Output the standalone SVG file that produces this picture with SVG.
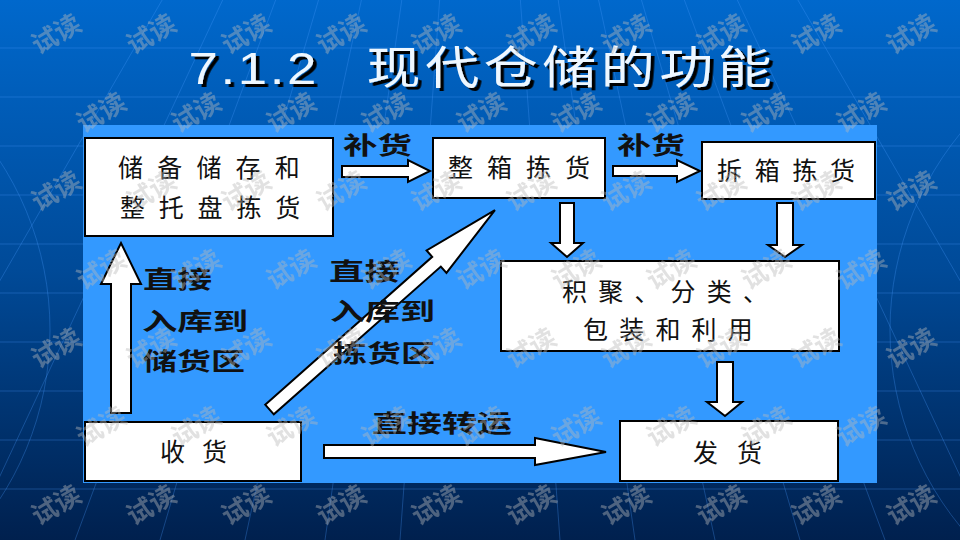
<svg xmlns="http://www.w3.org/2000/svg" width="960" height="540" viewBox="0 0 960 540">
<defs>
<linearGradient id="bg" x1="0" y1="0" x2="0" y2="1">
<stop offset="0" stop-color="#0068cc"/>
<stop offset="0.5" stop-color="#004a98"/>
<stop offset="1" stop-color="#00204e"/>
</linearGradient>
<filter id="shadow" x="-5%" y="-20%" width="115%" height="150%">
<feDropShadow dx="3" dy="3" stdDeviation="0.6" flood-color="#000" flood-opacity="1"/>
</filter>
<style>
.bgl{stroke:#4a9cff;stroke-width:1;opacity:0.3;fill:none}
.box{fill:#fff;stroke:#000;stroke-width:2}
.arr{fill:#fff;stroke:#000;stroke-width:2;stroke-linejoin:miter}
.bt{font-family:"Liberation Serif","Noto Sans CJK SC",serif;font-size:25px;fill:#111;dominant-baseline:central}
.lb{font-family:"Liberation Serif","Noto Sans CJK SC",serif;font-size:24px;font-weight:700;fill:#111;dominant-baseline:central}
.wm{font-family:"Noto Sans CJK SC",sans-serif;font-size:26px;font-weight:700;fill:#bababa;opacity:0.42;text-anchor:middle;dominant-baseline:central}
</style>
</defs>
<rect x="0" y="0" width="960" height="540" fill="url(#bg)"/>
<g id="bglines">
<path class="bgl" d="M0 48H960M0 97H960M0 146H960M0 195H960M0 244H960M0 293H960M0 342H960M0 391H960M0 440H960M0 489H960"/>
<path class="bgl" d="M480 -550L-150 540M480 -550L-30 540M480 -550L75 540M480 -550L160 540M480 -550L245 540M480 -550L325 540M480 -550L400 540M480 -550L560 540M480 -550L635 540M480 -550L715 540M480 -550L800 540M480 -550L885 540M480 -550L990 540M480 -550L1110 540"/>
<circle class="bgl" cx="1200" cy="330" r="310"/>
<circle class="bgl" cx="-260" cy="330" r="310"/>
</g>
<text id="title" transform="translate(0,84) scale(1.2,1)" filter="url(#shadow)" fill="#eef7ff"><tspan x="157" font-family="Liberation Sans, Arial, sans-serif" font-size="44" letter-spacing="2.2">7.1.2</tspan><tspan x="305.5" font-family="Noto Sans CJK SC, sans-serif" font-size="45" letter-spacing="3.8">现代仓储的功能</tspan></text>
<rect id="panel" x="83" y="125" width="794" height="358" fill="#3399ff"/>
<g id="connectors">
<polygon class="arr" points="342,166 408,166 408,160 430,171 408,182 408,177 342,177"/>
<polygon class="arr" points="613,166 677,166 677,160 700,171 677,182 677,176 613,176"/>
<polygon class="arr" points="560,203 574,203 574,243 583,243 567,257 551,243 560,243"/>
<polygon class="arr" points="777,203 793,203 793,245 802,245 785,257 768,245 777,245"/>
<polygon class="arr" points="717,362 733,362 733,402 742,402 725,416 707,402 717,402"/>
<polygon class="arr" points="111,413 111,284 101,284 121,243 141,284 131,284 131,413"/>
<polygon class="arr" transform="translate(269.5,409.5) rotate(-41.5)" points="0,-6.5 223,-6.5 223,-15 301,0 223,15 223,6.5 0,6.5"/>
<polygon class="arr" points="324,445 535,445 535,438 606,452 535,465 535,458 324,458"/>
</g>
<g id="n-storage">
<rect class="box" x="85" y="138" width="248" height="98"/>
<text class="bt" x="118" y="168.5" letter-spacing="14.2">储备储存和</text>
<text class="bt" x="120" y="208.5" letter-spacing="13.8">整托盘拣货</text>
</g>
<g id="n-case">
<rect class="box" x="433" y="138" width="172" height="60"/>
<text class="bt" x="448" y="168.5" letter-spacing="14">整箱拣货</text>
</g>
<g id="n-piece">
<rect class="box" x="702" y="142" width="173" height="57"/>
<text class="bt" x="717" y="171" letter-spacing="12.7">拆箱拣货</text>
</g>
<g id="n-consolidate">
<rect class="box" x="501" y="261" width="338" height="90"/>
<text class="bt" x="562" y="292" letter-spacing="11.2">积聚、分类、</text>
<text class="bt" x="583" y="330" letter-spacing="11.2">包装和利用</text>
</g>
<g id="n-receive">
<rect class="box" x="85" y="422" width="216" height="59"/>
<text class="bt" x="160" y="452.5" letter-spacing="17">收货</text>
</g>
<g id="n-ship">
<rect class="box" x="620" y="421" width="218" height="60"/>
<text class="bt" x="693" y="453" letter-spacing="19">发货</text>
</g>
<g id="labels">
<text class="lb" x="343" y="146" textLength="69" lengthAdjust="spacingAndGlyphs">补货</text>
<text class="lb" x="617" y="146" textLength="68" lengthAdjust="spacingAndGlyphs">补货</text>
<text class="lb" x="143" y="280" textLength="69" lengthAdjust="spacingAndGlyphs">直接</text>
<text class="lb" x="142" y="321.5" textLength="106" lengthAdjust="spacingAndGlyphs">入库到</text>
<text class="lb" x="143" y="361.5" textLength="102" lengthAdjust="spacingAndGlyphs">储货区</text>
<text class="lb" x="329" y="271.5" textLength="71" lengthAdjust="spacingAndGlyphs">直接</text>
<text class="lb" x="330" y="311.5" textLength="105" lengthAdjust="spacingAndGlyphs">入库到</text>
<text class="lb" x="333" y="353.5" textLength="102" lengthAdjust="spacingAndGlyphs">拣货区</text>
<text class="lb" x="372" y="423.5" textLength="140" lengthAdjust="spacingAndGlyphs">直接转运</text>
</g>
<g id="watermark">
<text class="wm" transform="translate(55,32) rotate(-30)">试读</text>
<text class="wm" transform="translate(150,32) rotate(-30)">试读</text>
<text class="wm" transform="translate(245,32) rotate(-30)">试读</text>
<text class="wm" transform="translate(340,32) rotate(-30)">试读</text>
<text class="wm" transform="translate(435,32) rotate(-30)">试读</text>
<text class="wm" transform="translate(530,32) rotate(-30)">试读</text>
<text class="wm" transform="translate(625,32) rotate(-30)">试读</text>
<text class="wm" transform="translate(720,32) rotate(-30)">试读</text>
<text class="wm" transform="translate(815,32) rotate(-30)">试读</text>
<text class="wm" transform="translate(910,32) rotate(-30)">试读</text>
<text class="wm" transform="translate(100,110.5) rotate(-30)">试读</text>
<text class="wm" transform="translate(195,110.5) rotate(-30)">试读</text>
<text class="wm" transform="translate(290,110.5) rotate(-30)">试读</text>
<text class="wm" transform="translate(385,110.5) rotate(-30)">试读</text>
<text class="wm" transform="translate(480,110.5) rotate(-30)">试读</text>
<text class="wm" transform="translate(575,110.5) rotate(-30)">试读</text>
<text class="wm" transform="translate(670,110.5) rotate(-30)">试读</text>
<text class="wm" transform="translate(765,110.5) rotate(-30)">试读</text>
<text class="wm" transform="translate(860,110.5) rotate(-30)">试读</text>
<text class="wm" transform="translate(55,189) rotate(-30)">试读</text>
<text class="wm" transform="translate(150,189) rotate(-30)">试读</text>
<text class="wm" transform="translate(245,189) rotate(-30)">试读</text>
<text class="wm" transform="translate(340,189) rotate(-30)">试读</text>
<text class="wm" transform="translate(435,189) rotate(-30)">试读</text>
<text class="wm" transform="translate(530,189) rotate(-30)">试读</text>
<text class="wm" transform="translate(625,189) rotate(-30)">试读</text>
<text class="wm" transform="translate(720,189) rotate(-30)">试读</text>
<text class="wm" transform="translate(815,189) rotate(-30)">试读</text>
<text class="wm" transform="translate(910,189) rotate(-30)">试读</text>
<text class="wm" transform="translate(100,267.5) rotate(-30)">试读</text>
<text class="wm" transform="translate(195,267.5) rotate(-30)">试读</text>
<text class="wm" transform="translate(290,267.5) rotate(-30)">试读</text>
<text class="wm" transform="translate(385,267.5) rotate(-30)">试读</text>
<text class="wm" transform="translate(480,267.5) rotate(-30)">试读</text>
<text class="wm" transform="translate(575,267.5) rotate(-30)">试读</text>
<text class="wm" transform="translate(670,267.5) rotate(-30)">试读</text>
<text class="wm" transform="translate(765,267.5) rotate(-30)">试读</text>
<text class="wm" transform="translate(860,267.5) rotate(-30)">试读</text>
<text class="wm" transform="translate(55,346) rotate(-30)">试读</text>
<text class="wm" transform="translate(150,346) rotate(-30)">试读</text>
<text class="wm" transform="translate(245,346) rotate(-30)">试读</text>
<text class="wm" transform="translate(340,346) rotate(-30)">试读</text>
<text class="wm" transform="translate(435,346) rotate(-30)">试读</text>
<text class="wm" transform="translate(530,346) rotate(-30)">试读</text>
<text class="wm" transform="translate(625,346) rotate(-30)">试读</text>
<text class="wm" transform="translate(720,346) rotate(-30)">试读</text>
<text class="wm" transform="translate(815,346) rotate(-30)">试读</text>
<text class="wm" transform="translate(910,346) rotate(-30)">试读</text>
<text class="wm" transform="translate(100,424.5) rotate(-30)">试读</text>
<text class="wm" transform="translate(195,424.5) rotate(-30)">试读</text>
<text class="wm" transform="translate(290,424.5) rotate(-30)">试读</text>
<text class="wm" transform="translate(385,424.5) rotate(-30)">试读</text>
<text class="wm" transform="translate(480,424.5) rotate(-30)">试读</text>
<text class="wm" transform="translate(575,424.5) rotate(-30)">试读</text>
<text class="wm" transform="translate(670,424.5) rotate(-30)">试读</text>
<text class="wm" transform="translate(765,424.5) rotate(-30)">试读</text>
<text class="wm" transform="translate(860,424.5) rotate(-30)">试读</text>
<text class="wm" transform="translate(55,503) rotate(-30)">试读</text>
<text class="wm" transform="translate(150,503) rotate(-30)">试读</text>
<text class="wm" transform="translate(245,503) rotate(-30)">试读</text>
<text class="wm" transform="translate(340,503) rotate(-30)">试读</text>
<text class="wm" transform="translate(435,503) rotate(-30)">试读</text>
<text class="wm" transform="translate(530,503) rotate(-30)">试读</text>
<text class="wm" transform="translate(625,503) rotate(-30)">试读</text>
<text class="wm" transform="translate(720,503) rotate(-30)">试读</text>
<text class="wm" transform="translate(815,503) rotate(-30)">试读</text>
<text class="wm" transform="translate(910,503) rotate(-30)">试读</text>
</g>
</svg>
